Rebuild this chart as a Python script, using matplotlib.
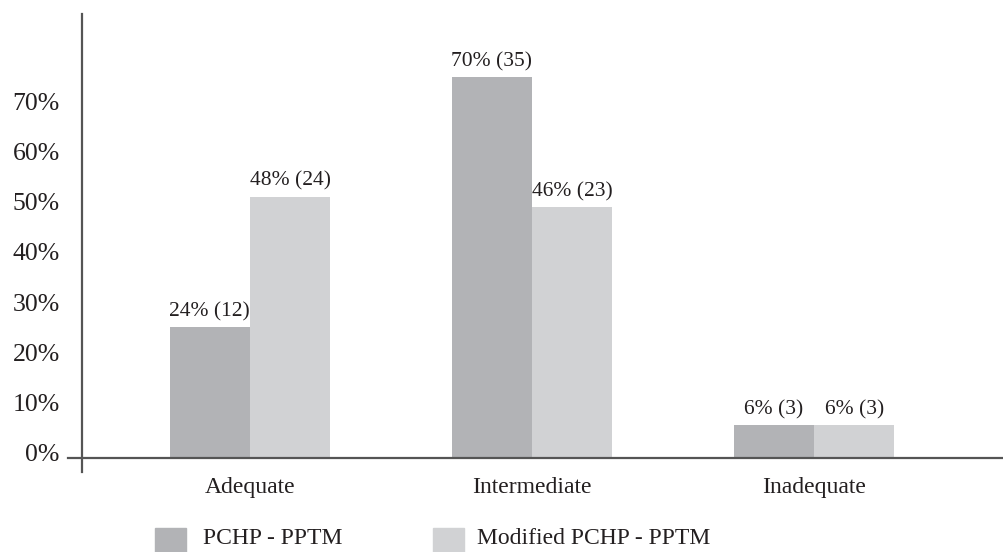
import numpy as np
import matplotlib
matplotlib.use("Agg")
import matplotlib.pyplot as plt
from matplotlib.patches import Rectangle

plt.rcParams['font.family'] = ['Liberation Serif', 'DejaVu Serif']

categories = ['Adequate', 'Intermediate', 'Inadequate']
pchp = [24, 70, 6]
pchp_n = [12, 35, 3]
modified = [48, 46, 6]
modified_n = [24, 23, 3]
series_names = ['PCHP - PPTM', 'Modified PCHP - PPTM']
ytick_labels = ['0%', '10%', '20%', '30%', '40%', '50%', '60%', '70%']

dark = '#b2b3b6'
light = '#d1d2d4'
axis_col = '#555555'
txt_col = '#231f20'

fig = plt.figure(figsize=(10.04, 5.52), dpi=100)
ax = fig.add_axes([82 / 1004, 94 / 552, 922 / 1004, 444 / 552])

x = np.arange(len(categories))
w = 0.285
b1 = ax.bar(x - w / 2, pchp, w, color=dark, zorder=2)
b2 = ax.bar(x + w / 2, modified, w, color=light, zorder=2)

for bars, vals, ns in [(b1, pchp, pchp_n), (b2, modified, modified_n)]:
    for bar, v, n in zip(bars, vals, ns):
        ax.annotate('%d%% (%d)' % (v, n),
                    (bar.get_x() + bar.get_width() / 2, bar.get_height()),
                    xytext=(0, 4), textcoords='offset points',
                    ha='center', va='bottom', fontsize=15.5, color=txt_col)

ax.set_xlim(-0.596, 2.674)
ax.set_ylim(0, 81.5)

# y labels in the source sit on a slightly different scale than the bars
tick_pos = 0.92 + 9.23 * np.arange(len(ytick_labels))
ax.set_yticks(tick_pos, ytick_labels)
ax.set_xticks(x, categories)
ax.tick_params(axis='y', length=0, pad=16, labelsize=18.5, labelcolor=txt_col)
ax.tick_params(axis='x', length=0, pad=14, labelsize=17, labelcolor=txt_col)

for s in ax.spines.values():
    s.set_visible(False)
ax.plot([-0.0152, 1], [0, 0], transform=ax.transAxes, color=axis_col,
        lw=1.6, clip_on=False, zorder=3)
ax.plot([0, 0], [-0.0315, 1], transform=ax.transAxes, color=axis_col,
        lw=1.6, clip_on=False, zorder=3)

# legend drawn by hand along the bottom edge
for (sx, tx), col, name in zip([(155, 203), (433, 477)], [dark, light], series_names):
    fig.patches.append(Rectangle((sx / 1004, -8 / 552), 31 / 1004, 32 / 552,
                                 transform=fig.transFigure, color=col))
    fig.text(tx / 1004, 13 / 552, name, ha='left', va='center',
             fontsize=17, color=txt_col)

fig.savefig('out.png', dpi=100)
